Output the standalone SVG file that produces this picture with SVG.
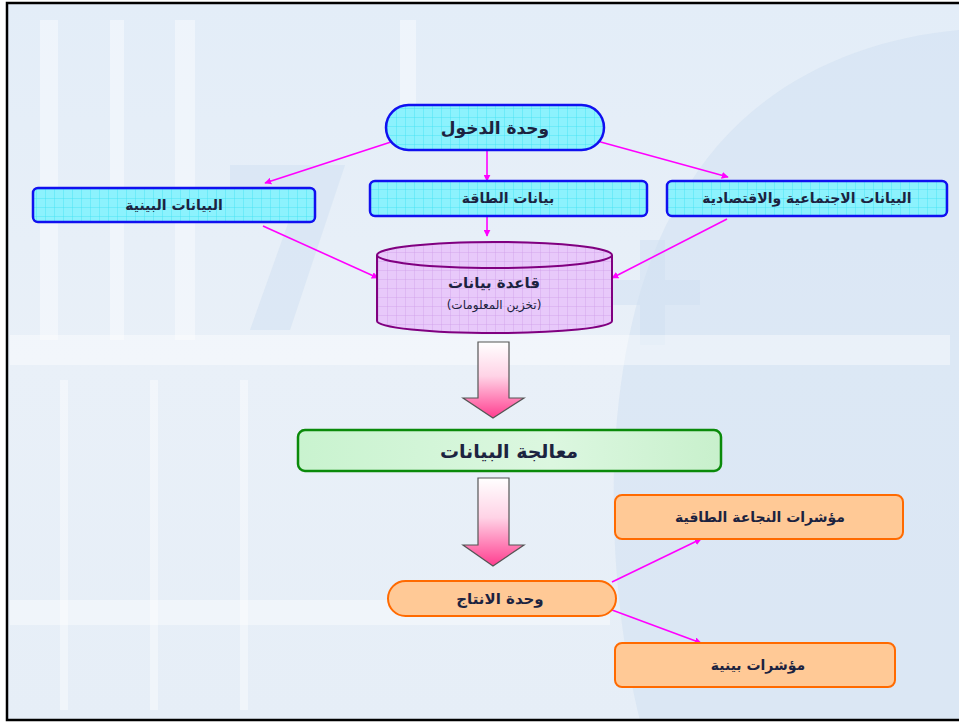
<svg xmlns="http://www.w3.org/2000/svg" width="959" height="723" viewBox="0 0 959 723">
<defs>
<style>
.t{font-family:"DejaVu Sans","Noto Sans",sans-serif;font-weight:bold;fill:#1c2340;text-anchor:middle;dominant-baseline:central}
.n{font-weight:normal}
.c{stroke:#ff00ff;stroke-width:1.6;fill:none;marker-end:url(#ah)}
.cy{stroke:#1010f0;stroke-width:2.5;fill:url(#gridC)}
.or{stroke:#ff6a00;stroke-width:2;fill:#ffc996}
.bg{fill:#cfe0f1;opacity:0.5}
.wh{fill:#ffffff;opacity:0.4}
</style>
<pattern id="gridC" width="9" height="9" patternUnits="userSpaceOnUse">
<rect width="9" height="9" fill="#8cf2fd"/>
<path d="M0 0H9M0 0V9" stroke="#3fe2f2" stroke-width="0.8"/>
</pattern>
<pattern id="gridP" width="9" height="9" patternUnits="userSpaceOnUse">
<rect width="9" height="9" fill="#e8c9fa"/>
<path d="M0 0H9M0 0V9" stroke="#cf9ee8" stroke-width="0.8"/>
</pattern>
<linearGradient id="gG" x1="0" y1="0" x2="1" y2="0">
<stop offset="0" stop-color="#c9f3cf"/>
<stop offset="0.6" stop-color="#dcf7e0"/>
<stop offset="1" stop-color="#c8f0cc"/>
</linearGradient>
<linearGradient id="gA" x1="0" y1="0" x2="0" y2="1">
<stop offset="0" stop-color="#ffffff"/>
<stop offset="0.45" stop-color="#ffd3e6"/>
<stop offset="1" stop-color="#ff3d8f"/>
</linearGradient>
<linearGradient id="bgG" x1="0" y1="0" x2="0" y2="1">
<stop offset="0" stop-color="#e3edf8"/>
<stop offset="0.5" stop-color="#e9f0f8"/>
<stop offset="1" stop-color="#e6eef7"/>
</linearGradient>
<marker id="ah" viewBox="0 0 10 10" refX="9" refY="5" markerWidth="7" markerHeight="7" orient="auto" markerUnits="userSpaceOnUse">
<path d="M0 0L10 5L0 10z" fill="#ff00ff"/>
</marker>
</defs>

<!-- background -->
<g id="background">
<rect x="0" y="0" width="959" height="723" fill="#ffffff"/>
<rect x="7" y="3" width="958" height="717" fill="url(#bgG)"/>
<path class="bg" d="M640 720 C600 560 600 330 680 200 C740 90 850 40 959 30 L959 720 Z"/>
<path class="bg" d="M230 165 L345 165 L290 330 L250 330 L300 190 L230 190 Z" opacity="0.35"/>
<path class="bg" d="M600 280 H640 V240 H665 V280 H700 V305 H665 V345 H640 V305 H600 Z" opacity="0.35"/>
<rect class="wh" x="40" y="20" width="18" height="320"/>
<rect class="wh" x="110" y="20" width="14" height="320"/>
<rect class="wh" x="175" y="20" width="20" height="320"/>
<rect class="wh" x="400" y="20" width="16" height="90"/>
<rect class="wh" x="10" y="335" width="940" height="30"/>
<rect class="wh" x="10" y="600" width="600" height="25"/>
<rect class="wh" x="60" y="380" width="8" height="330"/>
<rect class="wh" x="150" y="380" width="8" height="330"/>
<rect class="wh" x="240" y="380" width="8" height="330"/>
<rect x="7" y="3" width="958" height="717" fill="none" stroke="#000" stroke-width="2.5"/>
</g>

<!-- connectors -->
<g id="connectors">
<line class="c" x1="394" y1="141" x2="265" y2="183"/>
<line class="c" x1="487" y1="150" x2="487" y2="181"/>
<line class="c" x1="597" y1="141" x2="728" y2="177"/>
<line class="c" x1="487" y1="217" x2="487" y2="236"/>
<line class="c" x1="263" y1="226" x2="378" y2="278"/>
<line class="c" x1="727" y1="219" x2="612" y2="278"/>
<line class="c" x1="612" y1="582" x2="701" y2="539"/>
<line class="c" x1="612" y1="610" x2="701" y2="643"/>
<path d="M478 342H509V398H524L493 418L463 398H478Z" fill="url(#gA)" stroke="#555" stroke-width="1.2"/>
<path d="M478 478H509V545H524L493 566L463 545H478Z" fill="url(#gA)" stroke="#555" stroke-width="1.2"/>
</g>

<g id="n_input">
<rect class="cy" x="386" y="105" width="218" height="45" rx="22.5"/>
<text class="t" x="495" y="128" font-size="17">وحدة الدخول</text>
</g>
<g id="n_env">
<rect class="cy" x="33" y="188" width="282" height="34" rx="5"/>
<text class="t" x="174" y="205" font-size="14">البيانات البينية</text>
</g>
<g id="n_energy">
<rect class="cy" x="370" y="181" width="277" height="35" rx="5"/>
<text class="t" x="508" y="198" font-size="14">بيانات الطاقة</text>
</g>
<g id="n_socio">
<rect class="cy" x="667" y="181" width="280" height="35" rx="5"/>
<text class="t" x="807" y="198" font-size="14">البيانات الاجتماعية والاقتصادية</text>
</g>
<g id="n_db">
<path d="M377 255V321A117.5 12 0 0 0 612 321V255" fill="url(#gridP)" stroke="#800080" stroke-width="2"/>
<ellipse cx="494.5" cy="255" rx="117.5" ry="13" fill="url(#gridP)" stroke="#800080" stroke-width="2"/>
<text class="t" x="494" y="283" font-size="15">قاعدة بيانات</text>
<text class="t n" x="494" y="305" font-size="12">(تخزين المعلومات)</text>
</g>
<g id="n_process">
<rect x="298" y="430" width="423" height="41" rx="7" fill="url(#gG)" stroke="#0a8a0a" stroke-width="2.5"/>
<text class="t" x="509" y="451" font-size="19">معالجة البيانات</text>
</g>
<g id="n_output">
<rect class="or" x="388" y="581" width="228" height="35" rx="17.5" stroke-width="2.5"/>
<text class="t" x="500" y="599" font-size="15">وحدة الانتاج</text>
</g>
<g id="n_ind_energy">
<rect class="or" x="615" y="495" width="288" height="44" rx="7"/>
<text class="t" x="760" y="517" font-size="14">مؤشرات النجاعة الطاقية</text>
</g>
<g id="n_ind_env">
<rect class="or" x="615" y="643" width="280" height="44" rx="7"/>
<text class="t" x="758" y="665" font-size="14">مؤشرات بينية</text>
</g>
</svg>
